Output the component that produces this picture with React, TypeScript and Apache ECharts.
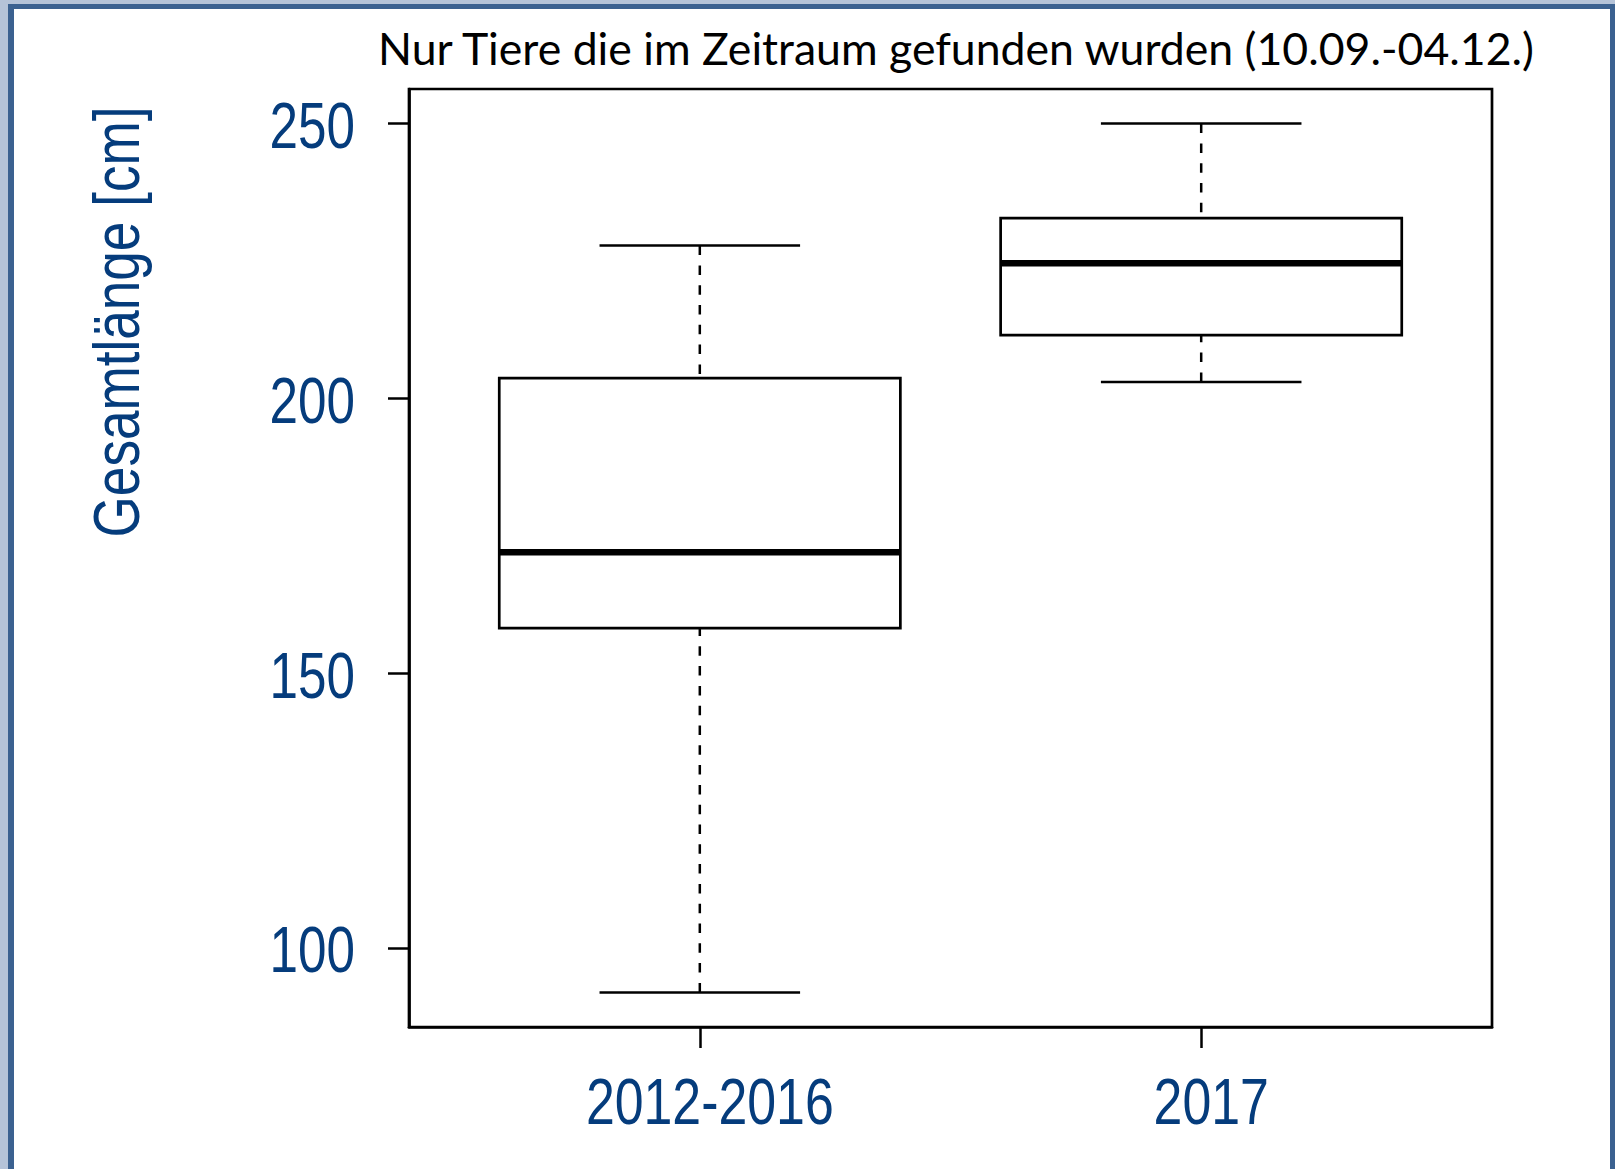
import React, { useEffect, useRef } from "react";
import * as echarts from "echarts";

// ---- data ----
const categories = ["2012-2016", "2017"];
const positions = [1, 2];
const lowerWhisker = [91.9, 203.0];
const quartile1 = [158.2, 211.5];
const medians = [172.0, 224.6];
const quartile3 = [203.7, 232.8];
const upperWhisker = [227.8, 250.0];
const yTicks = [100, 150, 200, 250];
const titleText = "Nur Tiere die im Zeitraum gefunden wurden (10.09.-04.12.)";
const yAxisTitle = "Gesamtlänge [cm]";

const BLUE = "#053c7c";
const SANS = "'Liberation Sans', Arial, sans-serif";
const LABEL_SIZE = 64;
const BOX_WIDTH = 0.8;
const STAPLE = 0.5;
const X_MIN = 0.42;
const X_MAX = 2.58;
const Y_MIN = 85.6;
const Y_MAX = 256.3;

export default function App() {
  const ref = useRef<HTMLDivElement>(null);

  useEffect(() => {
    if (!ref.current) return;
    const chart = echarts.init(ref.current, null, { renderer: "svg" });

    const seriesData = positions.map((p, i) => [
      p,
      lowerWhisker[i],
      quartile1[i],
      medians[i],
      quartile3[i],
      upperWhisker[i],
    ]);

    const option: any = {
      animation: false,
      backgroundColor: "#ffffff",
      title: {
        text: titleText,
        left: 956,
        textAlign: "center",
        top: 25,
        padding: 0,
        textStyle: {
          fontFamily: "Lato, 'Open Sans', sans-serif",
          fontWeight: "normal",
          fontSize: 44.6,
          color: "#000000",
        },
      },
      grid: {
        left: 409,
        right: 123,
        top: 89,
        bottom: 142,
        show: true,
        borderColor: "#000000",
        borderWidth: 2.7,
        backgroundColor: "transparent",
        containLabel: false,
      },
      xAxis: {
        type: "value",
        min: X_MIN,
        max: X_MAX,
        splitLine: { show: false },
        axisLine: { show: true, lineStyle: { color: "#000", width: 2.7 } },
        axisTick: {
          show: true,
          customValues: positions,
          length: 21,
          lineStyle: { color: "#000", width: 2.5 },
        },
        axisLabel: { show: false },
      },
      yAxis: {
        type: "value",
        min: Y_MIN,
        max: Y_MAX,
        splitLine: { show: false },
        axisLine: { show: true, lineStyle: { color: "#000", width: 2.7 } },
        axisTick: {
          show: true,
          customValues: yTicks,
          length: 21,
          lineStyle: { color: "#000", width: 2.5 },
        },
        axisLabel: { show: false },
      },
      series: [
        {
          type: "custom",
          clip: false,
          data: seriesData,
          renderItem: (params: any, api: any) => {
            const x = api.value(0);
            const lo = api.value(1);
            const q1 = api.value(2);
            const med = api.value(3);
            const q3 = api.value(4);
            const hi = api.value(5);
            const half = api.size([BOX_WIDTH, 0])[0] / 2;
            const capHalf = half * STAPLE;
            const cx = api.coord([x, med])[0];
            const yLo = api.coord([x, lo])[1];
            const yQ1 = api.coord([x, q1])[1];
            const yMed = api.coord([x, med])[1];
            const yQ3 = api.coord([x, q3])[1];
            const yHi = api.coord([x, hi])[1];
            const dash = { stroke: "#000", lineWidth: 2.5, lineDash: [9.5, 10.3] };
            const solid = { stroke: "#000", lineWidth: 2.5 };
            return {
              type: "group",
              children: [
                { type: "line", shape: { x1: cx, y1: yHi, x2: cx, y2: yQ3 }, style: dash },
                { type: "line", shape: { x1: cx, y1: yLo, x2: cx, y2: yQ1 }, style: dash },
                { type: "line", shape: { x1: cx - capHalf, y1: yHi, x2: cx + capHalf, y2: yHi }, style: solid },
                { type: "line", shape: { x1: cx - capHalf, y1: yLo, x2: cx + capHalf, y2: yLo }, style: solid },
                {
                  type: "rect",
                  shape: { x: cx - half, y: yQ3, width: 2 * half, height: yQ1 - yQ3 },
                  style: { fill: "#ffffff", stroke: "#000", lineWidth: 2.7 },
                },
                {
                  type: "line",
                  shape: { x1: cx - half, y1: yMed, x2: cx + half, y2: yMed },
                  style: { stroke: "#000", lineWidth: 6.5 },
                },
              ],
            };
          },
        },
      ],
    };

    chart.setOption(option);

    // Tick labels placed through the axes' own scales (condensed text)
    const axisLeft = chart.convertToPixel({ xAxisIndex: 0 }, X_MIN) as number;
    const axisBottom = chart.convertToPixel({ yAxisIndex: 0 }, Y_MIN) as number;
    const yLabelEls = yTicks.map((v) => ({
      type: "text",
      x: axisLeft - 54,
      y: (chart.convertToPixel({ yAxisIndex: 0 }, v) as number) + 2.5,
      scaleX: 0.8,
      silent: true,
      style: {
        text: String(v),
        fontFamily: SANS,
        fontSize: LABEL_SIZE,
        fill: BLUE,
        textAlign: "right",
        textVerticalAlign: "middle",
      },
    }));
    const xLabelEls = positions.map((p, i) => ({
      type: "text",
      x: (chart.convertToPixel({ xAxisIndex: 0 }, p) as number) + 10,
      y: axisBottom + 74,
      scaleX: 0.81,
      silent: true,
      style: {
        text: categories[i],
        fontFamily: SANS,
        fontSize: LABEL_SIZE,
        fill: BLUE,
        textAlign: "center",
        textVerticalAlign: "middle",
      },
    }));

    chart.setOption({
      graphic: [
        { type: "rect", shape: { x: 0, y: 0, width: 1615, height: 4 }, style: { fill: "#b5c3d8" }, silent: true },
        { type: "rect", shape: { x: 0, y: 0, width: 8, height: 1169 }, style: { fill: "#b5c3d8" }, silent: true },
        { type: "rect", shape: { x: 8, y: 4, width: 1607, height: 5 }, style: { fill: "#3b6190" }, silent: true },
        { type: "rect", shape: { x: 8, y: 4, width: 6, height: 1165 }, style: { fill: "#3b6190" }, silent: true },
        { type: "rect", shape: { x: 1610, y: 4, width: 5, height: 1165 }, style: { fill: "#3b6190" }, silent: true },
        {
          type: "text",
          x: 117,
          y: 322,
          rotation: Math.PI / 2,
          scaleX: 0.83,
          silent: true,
          style: {
            text: yAxisTitle,
            fontFamily: SANS,
            fontSize: LABEL_SIZE,
            fill: BLUE,
            textAlign: "center",
            textVerticalAlign: "middle",
          },
        },
        ...yLabelEls,
        ...xLabelEls,
      ],
    });

    return () => chart.dispose();
  }, []);

  return (
    <div
      ref={ref}
      style={{ position: "absolute", left: 0, top: 0, width: 1615, height: 1169, background: "#fff" }}
    />
  );
}
